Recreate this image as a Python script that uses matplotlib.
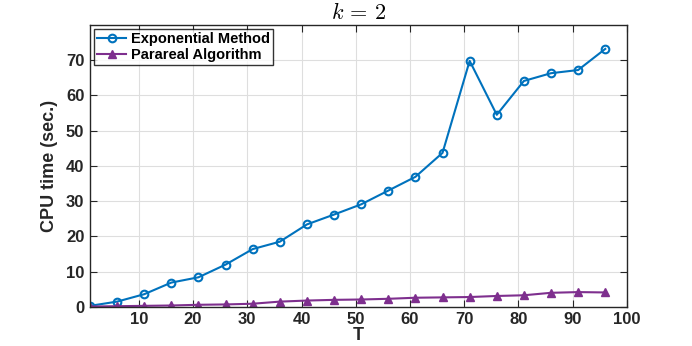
import numpy as np
import matplotlib
matplotlib.use('Agg')
import matplotlib.pyplot as plt

# data
T = [1, 6, 11, 16, 21, 26, 31, 36, 41, 46, 51, 56, 61, 66, 71, 76, 81, 86, 91, 96]
exp_time = [0.3, 1.5, 3.6, 6.9, 8.4, 12.0, 16.4, 18.5, 23.4, 26.2, 29.1, 33.0,
            36.9, 43.7, 69.8, 54.5, 64.1, 66.3, 67.2, 73.2]
para_time = [0.1, 0.2, 0.3, 0.4, 0.6, 0.7, 0.9, 1.5, 1.8, 2.0, 2.1, 2.3,
             2.6, 2.7, 2.8, 3.1, 3.3, 4.0, 4.2, 4.1]

blue = '#0072BD'
purple = '#7E2F8E'
axcol = '#262626'

plt.rcParams['font.family'] = 'Liberation Sans'
plt.rcParams['font.weight'] = 'bold'
plt.rcParams['mathtext.fontset'] = 'cm'

fig = plt.figure(figsize=(6.92, 3.46), dpi=100)
ax = fig.add_axes([0.130, 0.113, 0.776, 0.815])

ax.plot(T, exp_time, '-o', color=blue, lw=1.5, ms=5.5, mfc='none', mew=1.5,
        label='Exponential Method')
ax.plot(T, para_time, '-^', color=purple, lw=1.5, ms=6, mfc=purple, mew=1.0,
        label='Parareal Algorithm')

ax.set_xlim(1, 100)
ax.set_ylim(0, 80)
ax.set_xticks(np.arange(10, 101, 10))
ax.set_yticks(np.arange(0, 71, 10))
ax.grid(True, color='#dedede', lw=0.8)
ax.set_axisbelow(True)
for s in ax.spines.values():
    s.set_color(axcol)
    s.set_linewidth(1.0)
ax.tick_params(direction='in', length=5, width=0.8, colors=axcol, labelsize=12,
               top=True, right=True, pad=4)
for lab in ax.get_xticklabels() + ax.get_yticklabels():
    lab.set_fontweight('bold')

ax.set_xlabel('T', fontsize=13, fontweight='bold', color=axcol, labelpad=0)
ax.set_ylabel('CPU time (sec.)', fontsize=13, fontweight='bold', color=axcol, labelpad=6)
ax.set_title('$k\\,=\\,2$', fontsize=16, pad=4)

leg = ax.legend(loc='upper left', fontsize=10.5, frameon=True, fancybox=False,
                edgecolor='black', borderpad=0.2, labelspacing=0.1,
                handlelength=2.0, handletextpad=0.3, borderaxespad=0.3)
leg.get_frame().set_linewidth(1.0)
for t in leg.get_texts():
    t.set_fontweight('bold')

fig.savefig('out.png', dpi=100)
